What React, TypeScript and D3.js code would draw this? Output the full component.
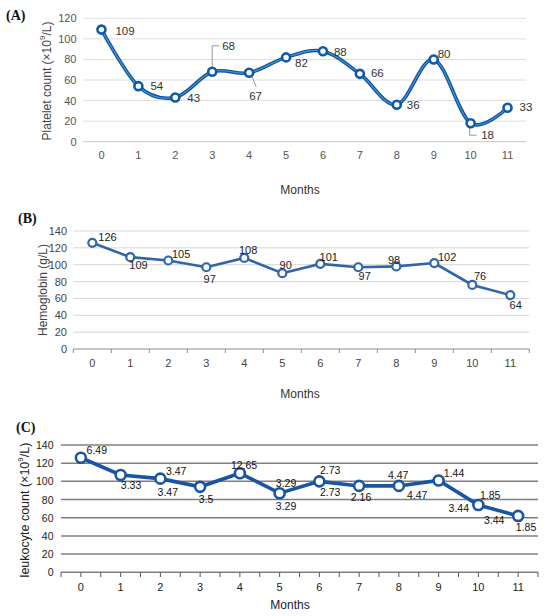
import React from "react";
import * as d3 from "d3";

// ---------- DATA ----------
const months = ["0", "1", "2", "3", "4", "5", "6", "7", "8", "9", "10", "11"];
const plateletValues = [109, 54, 43, 68, 67, 82, 88, 66, 36, 80, 18, 33];
const plateletLabels = ["109", "54", "43", "68", "67", "82", "88", "66", "36", "80", "18", "33"];
const hemoglobinValues = [126, 109, 105, 97, 108, 90, 101, 97, 98, 102, 76, 64];
const hemoglobinLabels = ["126", "109", "105", "97", "108", "90", "101", "97", "98", "102", "76", "64"];
const leukocytePlotValues = [126, 107, 103, 94, 109, 87, 100, 95, 95, 101, 74, 62];
const leukocyteLabelsA = ["6.49", "3.33", "3.47", "3.5", "12.65", "3.29", "2.73", "2.16", "4.47", "1.44", "1.85", "1.85"];
const leukocyteLabelsB = ["", "", "3.47", "", "", "3.29", "2.73", "", "4.47", "", "3.44", ""];
const leukocyteLabelsC = ["", "", "", "", "", "", "", "", "", "", "3.44", ""];
const yTicksA = [0, 20, 40, 60, 80, 100, 120];
const yTicksBC = [0, 20, 40, 60, 80, 100, 120, 140];

// ---------- LAYOUT / STYLE ----------
const FONT = "'Liberation Sans', Arial, sans-serif";
const offA: [number, number][] = [
  [14, 1], [12, 0], [12, 1], [10, -26], [0, 23], [9, 6], [11, 0.5], [11, -0.6], [10, 0.3], [4, -5.5], [10.6, 12], [12, -0.5],
];
const offB: [number, number][] = [
  [6, -6], [-1, 8], [3.6, -7], [-2.7, 12], [-5.4, -8], [-2.7, -8], [-0.7, -7], [0.3, 9], [-8.4, -6.4], [3.6, -6.3], [1.6, -9], [-0.7, 10],
];
const offC1: [number, number][] = [
  [5.7, -7.7], [0.2, 10], [5.5, -8], [-1.3, 12.3], [-9, -7.7], [-3.8, -10.3], [0.5, -11.7], [-8.3, 11], [-11, -10.7], [5.2, -7.4], [1.5, -10], [-2.3, 11.3],
];
const offC2: [number, number][] = [
  [0, 0], [0, 0], [-2.8, 13], [0, 0], [0, 0], [-3.8, 12.7], [0.5, 10.3], [0, 0], [8, 9.3], [0, 0], [-29.8, 3.3], [0, 0],
];
const offC3: [number, number][] = [
  [0, 0], [0, 0], [0, 0], [0, 0], [0, 0], [0, 0], [0, 0], [0, 0], [0, 0], [0, 0], [5.5, 15], [0, 0],
];

function ChartA() {
  const x = d3.scaleBand<string>().domain(months).range([83, 526]);
  const y = d3.scaleLinear().domain([0, 120]).range([141.7, 18.3]);
  const cx = (i: number) => (x(months[i]) as number) + x.bandwidth() / 2;
  const line = d3
    .line<number>()
    .x((_, i) => cx(i))
    .y((d) => y(d))
    .curve(d3.curveCardinal.tension(0));
  const path = line(plateletValues) || "";
  const p3 = [cx(3), y(plateletValues[3])];
  const p4 = [cx(4), y(plateletValues[4])];
  const p10 = [cx(10), y(plateletValues[10])];
  return (
    <g>
      <text x={6} y={20} fontFamily="'Liberation Serif', 'Times New Roman', serif" fontWeight="bold" fontSize={14} fill="#111">(A)</text>
      {yTicksA.map((t) => (
        <g key={t}>
          <line x1={83} x2={526} y1={y(t)} y2={y(t)} stroke={t === 0 ? "#c8c8c8" : "#dedede"} strokeWidth={1} />
          <text x={76.5} y={y(t)} textAnchor="end" dominantBaseline="central" fontFamily={FONT} fontSize={11} fill="#555">{t}</text>
        </g>
      ))}
      {months.map((m, i) => (
        <text key={m} x={cx(i)} y={155} textAnchor="middle" dominantBaseline="central" fontFamily={FONT} fontSize={11} fill="#555">{m}</text>
      ))}
      <text transform={`translate(47,81) rotate(-90)`} textAnchor="middle" dominantBaseline="central" fontFamily={FONT} fontSize={12} fill="#444">
        Platelet count (×10<tspan fontSize={8} dy={-5}>9</tspan><tspan dy={5}>/L)</tspan>
      </text>
      <text x={300} y={190} textAnchor="middle" dominantBaseline="central" fontFamily={FONT} fontSize={12} fill="#333">Months</text>
      {/* leader lines */}
      <polyline points={`${p3[0]},${p3[1] - 5} ${p3[0]},${p3[1] - 26} ${p3[0] + 7},${p3[1] - 26}`} fill="none" stroke="#999" strokeWidth={1} />
      <line x1={p4[0] + 3} y1={p4[1] + 4} x2={p4[0] + 7} y2={p4[1] + 14} stroke="#999" strokeWidth={1} />
      <polyline points={`${p10[0] - 1},${p10[1] + 4} ${p10[0] - 1},${p10[1] + 12} ${p10[0] + 6},${p10[1] + 12}`} fill="none" stroke="#999" strokeWidth={1} />
      <path d={path} fill="none" stroke="#0d4f96" strokeWidth={3.6} />
      <path d={path} fill="none" stroke="#3f93d6" strokeWidth={1.3} />
      {plateletValues.map((v, i) => (
        <circle key={i} cx={cx(i)} cy={y(v)} r={4} fill="#fff" stroke="#0f5aa6" strokeWidth={2.6} />
      ))}
      {plateletLabels.map((l, i) => (
        <text key={i} x={cx(i) + offA[i][0]} y={y(plateletValues[i]) + offA[i][1]} dominantBaseline="central" fontFamily={FONT} fontSize={11.5} fill="#333">{l}</text>
      ))}
    </g>
  );
}

function ChartB() {
  const x = d3.scaleBand<string>().domain(months).range([73.3, 529.3]);
  const y = d3.scaleLinear().domain([0, 140]).range([349, 231]);
  const cx = (i: number) => (x(months[i]) as number) + x.bandwidth() / 2;
  const line = d3.line<number>().x((_, i) => cx(i)).y((d) => y(d));
  const bounds = d3.range(months.length + 1).map((i) => 73.3 + i * x.bandwidth());
  return (
    <g>
      <text x={18} y={223} fontFamily="'Liberation Serif', 'Times New Roman', serif" fontWeight="bold" fontSize={14} fill="#111">(B)</text>
      {yTicksBC.map((t) => (
        <g key={t}>
          <line x1={73.3} x2={529.3} y1={y(t)} y2={y(t)} stroke={t === 0 ? "#8c8c8c" : "#d6d6d6"} strokeWidth={1} />
          <text x={67} y={y(t)} textAnchor="end" dominantBaseline="central" fontFamily={FONT} fontSize={11} fill="#444">{t}</text>
        </g>
      ))}
      {bounds.map((b, i) => (
        <line key={i} x1={b} x2={b} y1={349} y2={353} stroke="#8c8c8c" strokeWidth={1} />
      ))}
      {months.map((m, i) => (
        <text key={m} x={cx(i)} y={363} textAnchor="middle" dominantBaseline="central" fontFamily={FONT} fontSize={11} fill="#444">{m}</text>
      ))}
      <text transform={`translate(43,290) rotate(-90)`} textAnchor="middle" dominantBaseline="central" fontFamily={FONT} fontSize={12} fill="#444">Hemoglobin (g/L)</text>
      <text x={300} y={394} textAnchor="middle" dominantBaseline="central" fontFamily={FONT} fontSize={12} fill="#333">Months</text>
      <path d={line(hemoglobinValues) || ""} fill="none" stroke="#2f67a6" strokeWidth={2.6} />
      {hemoglobinValues.map((v, i) => (
        <circle key={i} cx={cx(i)} cy={y(v)} r={4} fill="#fff" stroke="#2f67a6" strokeWidth={2.2} />
      ))}
      {hemoglobinLabels.map((l, i) => (
        <text key={i} x={cx(i) + offB[i][0]} y={y(hemoglobinValues[i]) + offB[i][1]} dominantBaseline="central" fontFamily={FONT} fontSize={11} fill="#222">{l}</text>
      ))}
    </g>
  );
}

function ChartC() {
  const x = d3.scaleBand<string>().domain(months).range([61, 538]);
  const y = d3.scaleLinear().domain([0, 140]).range([572.3, 445]);
  const cx = (i: number) => (x(months[i]) as number) + x.bandwidth() / 2;
  const line = d3.line<number>().x((_, i) => cx(i)).y((d) => y(d));
  const half = x.bandwidth() / 2;
  const ticks = d3.range(months.length * 2 + 1).map((i) => 61 + i * half);
  const labelSets: [string[], [number, number][]][] = [
    [leukocyteLabelsA, offC1],
    [leukocyteLabelsB, offC2],
    [leukocyteLabelsC, offC3],
  ];
  return (
    <g>
      <text x={16} y={432} fontFamily="'Liberation Serif', 'Times New Roman', serif" fontWeight="bold" fontSize={14} fill="#111">(C)</text>
      {yTicksBC.map((t) => (
        <g key={t}>
          <line x1={61} x2={538} y1={y(t)} y2={y(t)} stroke="#808080" strokeWidth={1.5} />
          <text x={53.5} y={y(t)} textAnchor="end" dominantBaseline="central" fontFamily={FONT} fontSize={10.5} fill="#222">{t}</text>
        </g>
      ))}
      {ticks.map((b, i) => (
        <line key={i} x1={b} x2={b} y1={572.3} y2={577} stroke="#555" strokeWidth={1} />
      ))}
      {months.map((m, i) => (
        <text key={m} x={cx(i)} y={587} textAnchor="middle" dominantBaseline="central" fontFamily={FONT} fontSize={11} fill="#222">{m}</text>
      ))}
      <text transform={`translate(25,510) rotate(-90)`} textAnchor="middle" dominantBaseline="central" fontFamily={FONT} fontSize={12.5} fill="#222">
        leukocyte count (×10<tspan fontSize={8} dy={-5}>9</tspan><tspan dy={5}>/L)</tspan>
      </text>
      <text x={290} y={605} textAnchor="middle" dominantBaseline="central" fontFamily={FONT} fontSize={12} fill="#222">Months</text>
      <path d={line(leukocytePlotValues) || ""} fill="none" stroke="#1a55a3" strokeWidth={3.6} />
      {leukocytePlotValues.map((v, i) => (
        <circle key={i} cx={cx(i)} cy={y(v)} r={5} fill="#fff" stroke="#1a55a3" strokeWidth={2.6} />
      ))}
      {labelSets.map(([labels, offs], k) =>
        labels.map((l, i) =>
          l ? (
            <text key={`${k}-${i}`} x={cx(i) + offs[i][0]} y={y(leukocytePlotValues[i]) + offs[i][1]} dominantBaseline="central" fontFamily={FONT} fontSize={10.5} fill="#111">{l}</text>
          ) : null
        )
      )}
    </g>
  );
}

export default function App() {
  return (
    <svg width={550} height={616} style={{ position: "absolute", left: 0, top: 0, background: "#fff" }}>
      <rect x={0} y={0} width={550} height={616} fill="#fff" />
      <ChartA />
      <ChartB />
      <ChartC />
    </svg>
  );
}
